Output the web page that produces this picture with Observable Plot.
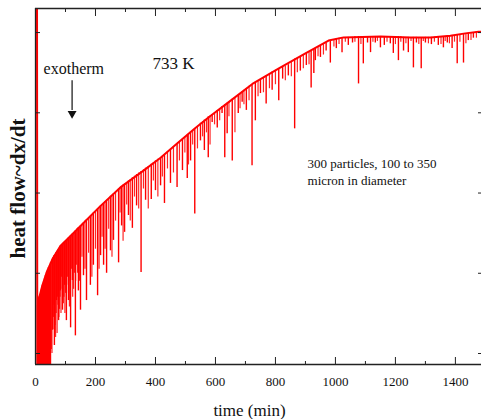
<!DOCTYPE html>
<html><head><meta charset="utf-8">
<script src="https://cdn.jsdelivr.net/npm/d3@7"></script>
<script src="https://cdn.jsdelivr.net/npm/@observablehq/plot@0.6"></script>
<style>body{margin:0;background:#fff} svg text{font-family:"Liberation Serif","Times New Roman",serif}</style>
</head><body><div id="chart"></div>
<script>
// ---- data ----
const xDomain = [0, 1487];
const yDomain = [-0.137, 4.30];
const majorTicks = [0, 200, 400, 600, 800, 1000, 1200, 1400];
const minorTicks = [100, 300, 500, 700, 900, 1100, 1300];
const yTicks = [0, 1, 2, 3, 4];

// upper envelope of the heat-flow trace
const baseT = [5, 6, 10, 23, 37, 57, 83, 110, 150, 217, 283, 360, 417, 473, 533, 583, 643, 723, 810, 900, 977, 1027, 1150, 1250, 1317, 1383, 1433, 1477, 1487];
const baseV = [4.6, -0.2, 0.66, 0.85, 1.01, 1.18, 1.34, 1.44, 1.59, 1.84, 2.07, 2.28, 2.44, 2.62, 2.81, 2.96, 3.13, 3.36, 3.55, 3.74, 3.90, 3.94, 3.95, 3.94, 3.94, 3.96, 3.99, 4.01, 4.01];

// deep downward spikes: time, top, bottom
const spikeT = [7,10,13,17,20,23,27,30,33,37,40,43,47,50,
  57,63,70,77,83,90,97,103,110,117,123,133,143,150,160,170,183,193,207,217,
  227,237,250,260,277,287,297,310,323,337,352,367,386,400,417,430,450,472,490,506,
  517,531,550,563,576,589,606,622,631,639,656,676,689,703,722,733,750,769,789,811,
  824,843,864,883,903,919,928,933,950,969,983,1003,1022,1043,1057,1077,1093,1107,1117,1133,
  1150,1163,1183,1193,1210,1227,1243,1260,1270,1286,1300,1320,1343,1360,1373,1389,1406,1427,1443,1460];
const spikeTop = [0.60,0.66,0.71,0.75,0.80,0.85,0.89,0.93,0.97,1.01,1.04,1.07,1.10,1.13,
  1.18,1.22,1.26,1.30,1.34,1.36,1.39,1.41,1.44,1.47,1.49,1.53,1.57,1.59,1.63,1.67,1.71,1.75,1.80,1.84,
  1.87,1.91,1.96,1.99,2.05,2.08,2.11,2.15,2.19,2.23,2.27,2.31,2.36,2.40,2.44,2.48,2.54,2.61,2.67,2.72,
  2.76,2.80,2.87,2.91,2.95,2.98,3.03,3.08,3.10,3.12,3.17,3.22,3.26,3.30,3.35,3.38,3.41,3.46,3.51,3.55,
  3.57,3.60,3.67,3.70,3.74,3.77,3.79,3.80,3.83,3.87,3.90,3.92,3.94,3.94,3.94,3.95,3.95,3.95,3.95,3.95,
  3.95,3.95,3.95,3.95,3.95,3.94,3.94,3.94,3.94,3.94,3.94,3.94,3.95,3.95,3.96,3.96,3.97,3.98,3.99,4.00];
const spikeBottom = [-0.2,-0.2,-0.2,-0.2,-0.2,-0.2,-0.2,-0.2,-0.2,-0.2,-0.2,-0.2,-0.2,-0.2,
  0.29,0.10,0.66,0.41,0.78,0.54,0.85,0.41,0.66,0.32,0.91,0.22,0.78,0.54,0.97,0.66,0.85,1.10,0.72,1.22,
  1.10,1.00,1.28,1.41,1.13,1.59,1.51,1.72,1.56,1.84,1.01,1.91,1.92,2.03,2.09,1.87,2.12,2.07,2.28,2.18,
  2.40,1.74,2.65,2.53,2.44,2.88,2.81,2.99,2.44,2.74,2.40,2.99,3.13,3.03,2.34,2.90,3.24,3.11,3.28,3.15,
  3.42,3.46,2.80,3.52,3.59,3.31,3.49,3.65,3.69,3.77,3.62,3.80,3.75,3.84,3.87,3.36,3.61,3.87,3.75,3.87,
  3.81,3.84,3.86,3.74,3.65,3.77,3.75,3.56,3.87,3.55,3.87,3.85,3.84,3.81,3.87,3.80,3.61,3.62,3.90,3.93];

// shallower fringe spikes between the deep ones: time, top, bottom
const fringeT = [53,55,58,60,62,65,67,69,72,73,75,78,80,82,85,87,89,93,95,98,100,104,107,110,113,116,120,124,127,130,134,137,140,147,155,165,177,188,200,212,
  222,232,244,255,267,282,292,304,316,330,344,360,376,393,408,423,440,460,480,498,
  510,524,540,557,570,582,597,614,645,665,682,695,712,742,760,780,800,833,853,873,
  893,912,942,960,995,1012,1033,1065,1085,1125,1140,1172,1200,1218,1235,1252,1278,1293,1310,1330,
  1352,1366,1380,1397,1415,1435,1452,1470];
const fringeTop = [1.15,1.17,1.19,1.20,1.22,1.23,1.24,1.26,1.27,1.28,1.29,1.31,1.32,1.33,1.34,1.35,1.36,1.38,1.38,1.39,1.40,1.42,1.43,1.44,1.45,1.46,1.48,1.49,1.50,1.51,1.53,1.55,1.56,1.58,1.61,1.65,1.69,1.73,1.77,1.82,
  1.85,1.89,1.93,1.97,2.01,2.07,2.10,2.13,2.17,2.21,2.25,2.29,2.33,2.38,2.42,2.46,2.51,2.58,2.64,2.70,
  2.74,2.78,2.83,2.89,2.93,2.96,3.00,3.05,3.13,3.19,3.24,3.28,3.33,3.40,3.43,3.48,3.53,3.58,3.63,3.68,
  3.72,3.76,3.82,3.85,3.91,3.93,3.94,3.95,3.95,3.95,3.95,3.95,3.95,3.95,3.94,3.94,3.94,3.94,3.94,3.94,
  3.95,3.95,3.96,3.96,3.97,3.98,4.00,4.01];
const fringeBottom = [0.05,0.00,0.30,0.45,0.60,0.35,0.20,0.50,0.25,0.70,0.60,0.45,0.55,0.70,0.50,0.95,0.80,0.62,0.70,0.50,0.75,0.85,0.95,0.75,0.58,0.90,1.05,0.70,0.80,1.00,0.90,1.10,1.00,0.90,1.20,1.05,1.25,0.95,1.30,1.05,
  1.45,1.30,1.55,1.20,1.65,1.75,1.40,1.85,1.65,1.95,1.80,2.05,1.80,2.15,1.95,2.20,2.30,2.25,2.40,2.50,
  2.35,2.60,2.55,2.70,2.75,2.60,2.85,2.90,2.95,2.75,3.05,3.10,3.15,3.20,3.25,3.30,3.35,3.40,3.45,3.50,
  3.55,3.60,3.70,3.72,3.82,3.85,3.88,3.88,3.85,3.88,3.89,3.88,3.85,3.88,3.86,3.89,3.85,3.89,3.86,3.88,
  3.85,3.89,3.86,3.88,3.88,3.86,3.90,3.93];

// annotations
const xTitle = "time (min)";
const yTitle = "heat flow~dx/dt";
const labelExo = ["exotherm"], labelExoX = 27, labelExoY = 3.55;
const labelTemp = ["733 K"], labelTempX = 390, labelTempY = 3.62;
const labelNote = ["300 particles, 100 to 350\nmicron in diameter"], labelNoteX = 907, labelNoteY = 2.27;
const arrowX = 122, arrowY1 = 3.40, arrowY2 = 3.03, arrowHeadY = 2.99;

// ---- chart ----
const serif = "Liberation Serif, Times New Roman, serif";
const red = "#ff0000";
const ink = "#222";
const sIdx = d3.range(spikeT.length);
const fIdx = d3.range(fringeT.length);
const bIdx = d3.range(baseT.length);

const chart = Plot.plot({
  width: 481, height: 419,
  marginLeft: 35, marginRight: 0, marginTop: 8, marginBottom: 55,
  style: {fontFamily: serif, background: "white", color: "black"},
  x: {domain: xDomain},
  y: {domain: yDomain},
  marks: [
    Plot.ruleX(fIdx, {x: i => fringeT[i], y1: i => fringeTop[i], y2: i => fringeBottom[i], stroke: red, strokeWidth: 1.2, strokeOpacity: 0.85, clip: true}),
    Plot.ruleX(sIdx, {x: i => spikeT[i], y1: i => spikeTop[i], y2: i => spikeBottom[i], stroke: red, strokeWidth: 1.4, clip: true}),
    Plot.line(bIdx, {x: i => baseT[i], y: i => baseV[i], stroke: red, strokeWidth: 2, clip: true}),
    // frame (left, top, bottom)
    Plot.ruleX([xDomain[0]], {stroke: ink, strokeWidth: 1.3}),
    Plot.ruleY([yDomain[0], yDomain[1]], {stroke: ink, strokeWidth: 1.3}),
    // inward ticks
    Plot.axisX(majorTicks, {anchor: "bottom", tickSize: 7, dy: -7, tickFormat: () => "", label: null, stroke: ink}),
    Plot.axisX(minorTicks, {anchor: "bottom", tickSize: 3, dy: -3, tickFormat: () => "", label: null, stroke: ink}),
    Plot.axisX(majorTicks, {anchor: "top", tickSize: 7, dy: 7, tickFormat: () => "", label: null, stroke: ink}),
    Plot.axisX(minorTicks, {anchor: "top", tickSize: 3, dy: 3, tickFormat: () => "", label: null, stroke: ink}),
    Plot.axisY(yTicks, {anchor: "left", tickSize: 5, dx: 5, tickFormat: () => "", label: null, stroke: ink}),
    Plot.axisY(yTicks, {anchor: "right", tickSize: 4, dx: -4, tickFormat: () => "", label: null, stroke: ink}),
    // tick labels
    Plot.axisX(majorTicks, {anchor: "bottom", tickSize: 0, tickPadding: 12, fontSize: 13, tickFormat: d3.format("d"), label: null, fill: "#111"}),
    // titles
    Plot.text([xTitle], {frameAnchor: "bottom", dy: 51, dx: -9, fontSize: 17, fill: "#111"}),
    Plot.text([yTitle], {frameAnchor: "left", textAnchor: "middle", rotate: -90, dx: -17, dy: 2, fontSize: 21, fontWeight: "bold", fill: "#111"}),
    // annotations
    Plot.text(labelExo, {x: labelExoX, y: labelExoY, textAnchor: "start", fontSize: 16, fill: "#111"}),
    Plot.text(labelTemp, {x: labelTempX, y: labelTempY, textAnchor: "start", fontSize: 17, fill: "#111"}),
    Plot.text(labelNote, {x: labelNoteX, y: labelNoteY, textAnchor: "start", fontSize: 13, lineHeight: 1.3, fill: "#111"}),
    Plot.ruleX([arrowX], {y1: arrowY1, y2: arrowY2, stroke: "#111", strokeWidth: 1.2}),
    Plot.dot([arrowX], {x: d => d, y: arrowHeadY, symbol: "triangle", rotate: 180, r: 3.3, fill: "#111", stroke: null})
  ]
});
document.getElementById("chart").appendChild(chart);
</script>
</body></html>
